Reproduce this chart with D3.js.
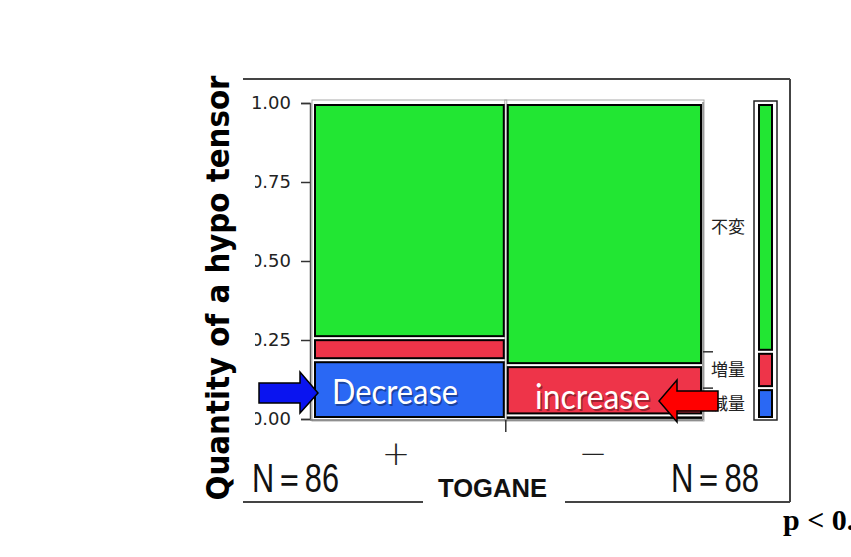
<!DOCTYPE html>
<html>
<head>
<meta charset="utf-8">
<script src="https://cdn.jsdelivr.net/npm/d3@7"></script>
<style>
  body { margin: 0; background: #fff; }
  svg { display: block; }
</style>
</head>
<body>
<div id="chart"></div>
<script>
// Mosaic plot: hypo tensor change by TOGANE (+ / -)

// DATA
var groups = ["+", "\u2212"];          // x categories
var groupN = [86, 88];                  // N of each group
var levels = ["減量", "増量", "不変"];   // stacked from the bottom
var plusCounts = [16, 6, 64];
var minusCounts = [1, 14, 73];
var yTicks = [0, 0.25, 0.5, 0.75, 1];
var levelColors = ["#2a68f4", "#ee3449", "#22e633"];

var width = 851, height = 557;

var svg = d3.select("#chart")
  .append("svg")
    .attr("width", width)
    .attr("height", height);

// Scales
var total = d3.sum(groupN);
var x = d3.scaleLinear().domain([0, total]).range([315, 701]);
var y = d3.scaleLinear().domain([0, 1]).range([419, 103]);
var color = d3.scaleOrdinal().domain(levels).range(levelColors);

// Build the cells of every column
var counts = [plusCounts, minusCounts];
var columns = [];
var xStart = 0;
groups.forEach(function(g, i) {
  var acc = 0;
  var cells = levels.map(function(l, j) {
    var c = { level: l, y0: acc / groupN[i], y1: (acc + counts[i][j]) / groupN[i] };
    acc += counts[i][j];
    return c;
  });
  columns.push({ group: g, n: groupN[i], x0: xStart, x1: xStart + groupN[i], cells: cells });
  xStart += groupN[i];
});

// Marginal proportions (bar on the right)
var margin = [];
var accM = 0;
levels.forEach(function(l, j) {
  var c = plusCounts[j] + minusCounts[j];
  margin.push({ level: l, y0: accM / total, y1: (accM + c) / total });
  accM += c;
});

// Outer frame (slide style)
var frame = svg.append("g").attr("stroke", "#444").attr("stroke-width", 2).attr("fill", "none");
frame.append("line").attr("x1", 243).attr("x2", 790).attr("y1", 79).attr("y2", 79);
frame.append("line").attr("x1", 790).attr("x2", 790).attr("y1", 79).attr("y2", 502);
frame.append("line").attr("x1", 243).attr("x2", 423).attr("y1", 502).attr("y2", 502);
frame.append("line").attr("x1", 565).attr("x2", 790).attr("y1", 502).attr("y2", 502);

// Column outlines
var gap = 2;
svg.append("g").selectAll("rect")
  .data(columns)
  .enter()
  .append("rect")
    .attr("x", (d, i) => x(d.x0) + (i ? gap : 0) - 3)
    .attr("width", (d, i) => x(d.x1) - x(d.x0) - gap + 6)
    .attr("y", y(1) - 3)
    .attr("height", y(0) - y(1) + 5)
    .attr("fill", "none")
    .attr("stroke", "#aaa")
    .attr("stroke-width", 1);

// Cells
var col = svg.append("g").selectAll("g")
  .data(columns)
  .enter()
  .append("g");

col.selectAll("rect")
  .data((d, i) => d.cells.map(c => Object.assign({ x0: d.x0, x1: d.x1, ci: i }, c)))
  .enter()
  .append("rect")
    .attr("x", d => x(d.x0) + (d.ci ? gap : 0))
    .attr("width", d => x(d.x1) - x(d.x0) - gap)
    .attr("y", d => y(d.y1) + 2)
    .attr("height", d => Math.max(0.5, y(d.y0) - y(d.y1) - 4))
    .attr("fill", d => color(d.level))
    .attr("stroke", "#000")
    .attr("stroke-width", 2);

// Left axis
var yAxis = svg.append("g")
  .attr("transform", "translate(310,0)")
  .call(d3.axisLeft(y).tickValues(yTicks).tickFormat(d3.format(".2f")).tickSize(9).tickPadding(10));
yAxis.select(".domain").attr("stroke", "#555").attr("stroke-width", 1.5);
yAxis.selectAll(".tick line").attr("stroke", "#333").attr("stroke-width", 1.5);
yAxis.selectAll("text")
  .attr("font-family", "DejaVu Sans, Verdana, sans-serif")
  .attr("font-size", 18)
  .attr("fill", "#222");

// Hide the left part of the tick labels like in the picture
svg.append("rect").attr("x", 236).attr("y", 150).attr("width", 19).attr("height", 290).attr("fill", "#fff");

// Bottom axis
svg.append("line").attr("x1", 310).attr("x2", 703).attr("y1", 420).attr("y2", 420)
  .attr("stroke", "#777").attr("stroke-width", 1.5);
svg.append("line").attr("x1", x(groupN[0])).attr("x2", x(groupN[0])).attr("y1", 420).attr("y2", 432)
  .attr("stroke", "#333").attr("stroke-width", 1.5);

// Right axis with the level labels
svg.append("line").attr("x1", 703).attr("x2", 703).attr("y1", y(1) - 1).attr("y2", 420)
  .attr("stroke", "#888").attr("stroke-width", 1.5);
svg.append("g").selectAll("line")
  .data(margin.slice(0, -1))
  .enter()
  .append("line")
    .attr("x1", 703).attr("x2", 713)
    .attr("y1", d => y(d.y1)).attr("y2", d => y(d.y1))
    .attr("stroke", "#333").attr("stroke-width", 1.5);
svg.append("g").selectAll("text")
  .data(margin)
  .enter()
  .append("text")
    .attr("x", 711)
    .attr("y", d => y((d.y0 + d.y1) / 2) + 6)
    .attr("font-family", "Noto Sans CJK JP, sans-serif")
    .attr("font-size", 17)
    .attr("fill", "#222")
    .text(d => d.level);

// Marginal bar
svg.append("rect").attr("x", 754).attr("y", y(1) - 2).attr("width", 23).attr("height", y(0) - y(1) + 3)
  .attr("fill", "#fff").attr("stroke", "#222").attr("stroke-width", 1.5);
svg.append("g").selectAll("rect")
  .data(margin)
  .enter()
  .append("rect")
    .attr("x", 759)
    .attr("width", 13)
    .attr("y", d => y(d.y1) + 2)
    .attr("height", d => y(d.y0) - y(d.y1) - 4)
    .attr("fill", d => color(d.level))
    .attr("stroke", "#000")
    .attr("stroke-width", 2);

// Texts inside the cells
function shadowText(tx, ty, len, label) {
  svg.append("text").attr("x", tx + 1.5).attr("y", ty + 1.5)
    .attr("font-family", "Lato, sans-serif").attr("font-size", 34)
    .attr("textLength", len).attr("lengthAdjust", "spacingAndGlyphs")
    .attr("fill", "#000").attr("opacity", 0.35).text(label);
  svg.append("text").attr("x", tx).attr("y", ty)
    .attr("font-family", "Lato, sans-serif").attr("font-size", 34)
    .attr("textLength", len).attr("lengthAdjust", "spacingAndGlyphs")
    .attr("fill", "#fff").text(label);
}
shadowText(332, 404, 126, "Decrease");
shadowText(535, 409, 115, "increase");

// Arrows
svg.append("path")
  .attr("d", "M259,383 L300,383 L300,372 L318,393 L300,413 L300,403 L259,403 Z")
  .attr("fill", "#0a14f0").attr("stroke", "#000").attr("stroke-width", 1.5);
svg.append("path")
  .attr("d", "M718,391 L677,391 L677,380 L659,401 L677,422 L677,411 L718,411 Z")
  .attr("fill", "#ff0000").attr("stroke", "#000").attr("stroke-width", 1.5);

// Group labels
svg.selectAll(".grp")
  .data(columns)
  .enter()
  .append("text")
    .attr("class", "grp")
    .attr("x", (d, i) => i ? 593 : 396)
    .attr("y", 465)
    .attr("text-anchor", "middle")
    .attr("font-family", "DejaVu Sans, sans-serif")
    .attr("font-size", 34)
    .attr("font-weight", 300)
    .attr("fill", "#222")
    .text(d => d.group);

svg.selectAll(".nlab")
  .data(columns)
  .enter()
  .append("text")
    .attr("class", "nlab")
    .attr("x", (d, i) => i ? 671 : 252)
    .attr("y", 492)
    .attr("font-family", "Liberation Sans, Arial, sans-serif")
    .attr("font-size", 40)
    .attr("textLength", (d, i) => i ? 88 : 87)
    .attr("lengthAdjust", "spacingAndGlyphs")
    .attr("fill", "#111")
    .text(d => "N\uFF1D" + d.n);

svg.append("text")
  .attr("x", 438).attr("y", 497)
  .attr("font-family", "Liberation Sans, Arial, sans-serif")
  .attr("font-size", 26)
  .attr("font-weight", "bold")
  .attr("textLength", 109)
  .attr("lengthAdjust", "spacingAndGlyphs")
  .attr("fill", "#111")
  .text("TOGANE");

// Y label
svg.append("text")
  .attr("transform", "translate(229,288) rotate(-90)")
  .attr("text-anchor", "middle")
  .attr("font-family", "DejaVu Sans, Verdana, sans-serif")
  .attr("font-size", 32)
  .attr("font-weight", "bold")
  .attr("textLength", 425)
  .attr("lengthAdjust", "spacingAndGlyphs")
  .attr("fill", "#000")
  .text("Quantity of a hypo tensor");

// p value (cut by the page edge as in the slide)
svg.append("text")
  .attr("x", 783).attr("y", 530)
  .attr("font-family", "Liberation Serif, Times New Roman, serif")
  .attr("font-size", 30)
  .attr("font-weight", "bold")
  .attr("fill", "#000")
  .text("p < 0.05");
</script>
</body>
</html>
